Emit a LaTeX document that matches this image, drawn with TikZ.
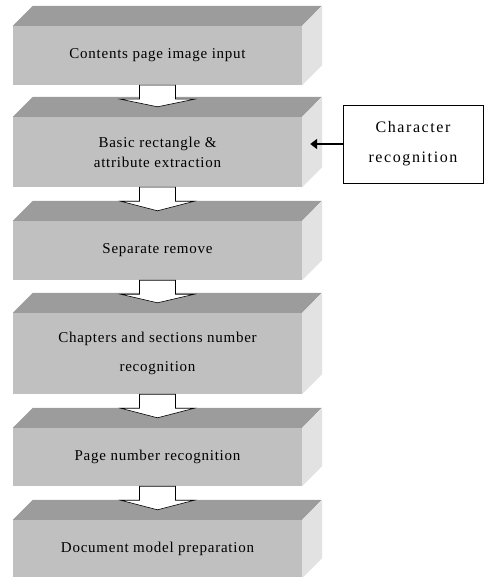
\documentclass[tikz,border=0pt]{standalone}
\usepackage{fontspec}
\setmainfont{Liberation Serif}
\newfontfamily\stagefont[LetterSpace=5]{Liberation Serif}
\newfontfamily\sourcefont[LetterSpace=10]{Liberation Serif}
\usetikzlibrary{arrows.meta, positioning, calc}
\definecolor{frontgray}{HTML}{C0C0C0}
\definecolor{topgray}{HTML}{9C9C9C}
\definecolor{sidegray}{HTML}{E2E2E2}

\begin{document}
\begin{tikzpicture}[x=1pt, y=-1pt]
    % Define styles
    \tikzstyle{stage} = [rectangle, fill=frontgray, minimum width=289pt, inner sep=0pt, align=center, font=\stagefont\fontsize{15}{20}\selectfont]
    \tikzstyle{topface} = [fill=topgray]
    \tikzstyle{sideface} = [fill=sidegray]
    \tikzstyle{blockarrow} = [draw=black, fill=white, line width=0.6pt, line join=miter]
    \tikzstyle{source} = [rectangle, draw=black, fill=white, line width=0.6pt, minimum width=140pt, minimum height=78pt, align=center, font=\sourcefont\fontsize{16}{30}\selectfont]
    \tikzstyle{arrow} = [-{Triangle[length=7pt, width=10pt]}, line width=2.5pt]

    \useasboundingbox (0,0) rectangle (485,577);

    % Stages (front faces)
    \node[stage, minimum height=59pt] (b1) at (157.5, 55.5) {Contents page image input};
    \node[stage, minimum height=70pt] (b2) at (157.5, 152) {Basic rectangle \&\\attribute extraction};
    \node[stage, minimum height=59pt] (b3) at (157.5, 250.5) {Separate remove};
    \node[stage, minimum height=81pt] (b4) at (157.5, 353.5) {Chapters and sections number\\[9pt]recognition};
    \node[stage, minimum height=58pt] (b5) at (157.5, 457) {Page number recognition};
    \node[stage, minimum height=58pt] (b6) at (157.5, 549) {Document model preparation};

    % Top and side faces
    \foreach \b in {b1, b2, b3, b4, b5, b6} {
        \fill[topface] (\b.north west) -- ++(20,-20) -- ++(289,0) -- (\b.north east) -- cycle;
        \fill[sideface] (\b.north east) -- ++(20,-20) -- ($(\b.south east)+(20,-20)$) -- (\b.south east) -- cycle;
    }

    % Block arrows between stages
    \foreach \a/\b in {b1/b2, b2/b3, b3/b4, b4/b5, b5/b6} {
        \draw[blockarrow] ($(\a.south)+(-18,0)$) -- ++(36,0) -- ++(0,14) -- ++(19,0)
            -- ($(\b.north)+(0,-10)$) -- ($(\a.south)+(-37,14)$) -- ++(19,0) -- cycle;
    }

    % Character recognition
    \node[source] (cr) at (413, 144) {Character\\recognition};
    \coordinate (b2side) at ($(b2.east)+(8,0)$);
    \draw[arrow] (cr.west) -- (cr.west -| b2side);
\end{tikzpicture}
\end{document}
